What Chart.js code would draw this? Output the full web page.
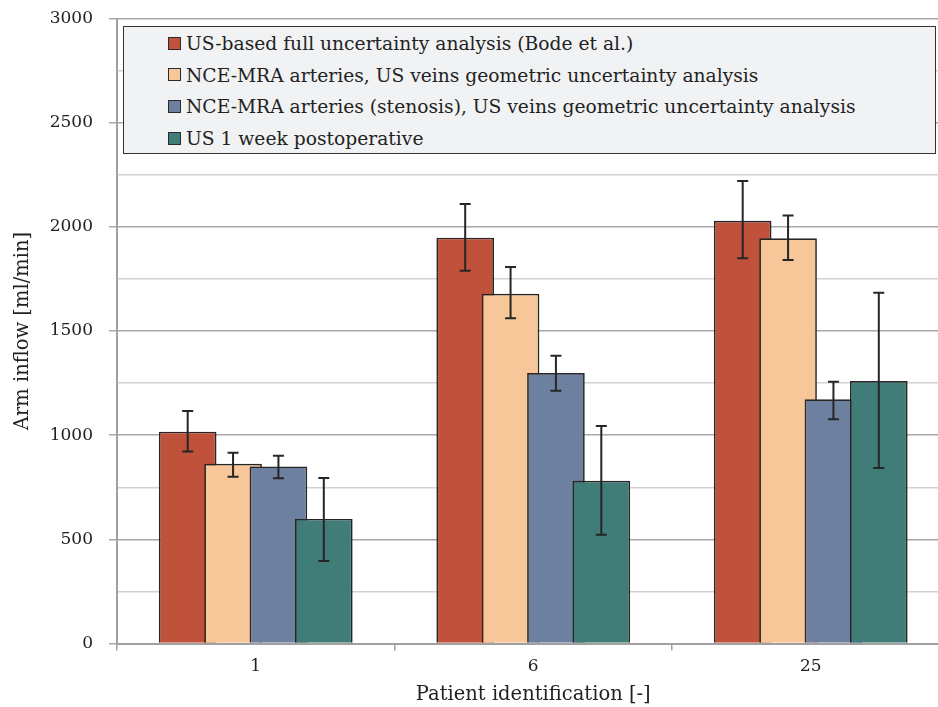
<!DOCTYPE html>
<html>
<head>
<meta charset="utf-8">
<script src="https://cdn.jsdelivr.net/npm/chart.js@4/dist/chart.umd.min.js"></script>
<style>
  html, body { margin: 0; padding: 0; background: #fff; overflow: hidden; }
  #wrap { position: relative; width: 960px; height: 707px; }
  #legend {
    position: absolute; left: 123px; top: 26px; width: 811px; height: 125px;
    background: #f1f2f4; border: 1.5px solid #333;
    font-family: "DejaVu Serif", serif; font-size: 18.7px; color: #222;
    padding-top: 1px;
  }
  #legend div { height: 31.7px; line-height: 31.7px; padding-left: 44px; white-space: nowrap; }
  #legend span {
    display: inline-block; width: 11px; height: 11px; border: 1px solid #2b2b2b;
    vertical-align: middle; margin-right: 5px; position: relative; top: -2px;
  }
</style>
</head>
<body>
<div id="wrap">
  <canvas id="myChart"></canvas>
  <div id="legend"></div>
</div>
<script>
const patients = ["1", "6", "25"];
const seriesNames = [
  "US-based full uncertainty analysis (Bode et al.)",
  "NCE-MRA arteries, US veins geometric uncertainty analysis",
  "NCE-MRA arteries (stenosis), US veins geometric uncertainty analysis",
  "US 1 week postoperative",
];
const usFull = [1017, 1948, 2029];
const usFullLow = [922, 1789, 1849];
const usFullHigh = [1116, 2110, 2220];
const nceMra = [863, 1679, 1945];
const nceMraLow = [801, 1561, 1841];
const nceMraHigh = [916, 1807, 2055];
const nceStenosis = [850, 1298, 1172];
const nceStenosisLow = [793, 1213, 1076];
const nceStenosisHigh = [901, 1381, 1257];
const usPostop = [598, 781, 1260];
const usPostopLow = [396, 522, 843];
const usPostopHigh = [794, 1044, 1684];
const colors = ["#c0513a", "#f7c699", "#6e809f", "#417d78"];

const values = [usFull, nceMra, nceStenosis, usPostop];
const lows = [usFullLow, nceMraLow, nceStenosisLow, usPostopLow];
const highs = [usFullHigh, nceMraHigh, nceStenosisHigh, usPostopHigh];

const FONT = "DejaVu Serif";
Chart.defaults.font.family = FONT;
Chart.defaults.font.size = 17;
Chart.defaults.color = "#222";

// legend box
const legend = document.getElementById("legend");
seriesNames.forEach((name, i) => {
  const row = document.createElement("div");
  const sw = document.createElement("span");
  sw.style.background = colors[i];
  row.appendChild(sw);
  row.appendChild(document.createTextNode(name));
  legend.appendChild(row);
});

// draw bars left to right (later ones on top), then the error bars
const barsAndErrors = {
  id: "barsAndErrors",
  beforeDatasetsDraw(chart) {
    const ctx = chart.ctx;
    const y = chart.scales.y;
    ctx.save();
    for (let i = 0; i < chart.data.datasets.length; i++) {
      chart.getDatasetMeta(i).controller.draw();
    }
    ctx.strokeStyle = "#262626";
    ctx.lineWidth = 2;
    for (let i = 0; i < chart.data.datasets.length; i++) {
      const meta = chart.getDatasetMeta(i);
      meta.data.forEach((bar, j) => {
        const top = y.getPixelForValue(highs[i][j]);
        const bot = y.getPixelForValue(lows[i][j]);
        ctx.beginPath();
        ctx.moveTo(bar.x, top);
        ctx.lineTo(bar.x, bot);
        ctx.moveTo(bar.x - 5.5, top);
        ctx.lineTo(bar.x + 5.5, top);
        ctx.moveTo(bar.x - 5.5, bot);
        ctx.lineTo(bar.x + 5.5, bot);
        ctx.stroke();
      });
    }
    ctx.restore();
    return false;
  },
};

const ctx = document.getElementById("myChart");
const myChart = new Chart(ctx, {
  type: "bar",
  data: {
    labels: patients,
    datasets: seriesNames.map((name, i) => ({
      label: name,
      data: values[i],
      backgroundColor: colors[i],
      borderColor: "#262626",
      borderWidth: 1.7,
      categoryPercentage: 0.654,
      barPercentage: 1.27,
    })),
  },
  options: {
    responsive: true,
    maintainAspectRatio: false,
    animation: false,
    layout: { padding: { top: 18.5, right: 10.5, left: 0, bottom: 0 } },
    plugins: {
      legend: { display: false },
      tooltip: { enabled: false },
    },
    scales: {
      x: {
        offset: true,
        grid: {
          drawOnChartArea: false,
          drawTicks: true,
          tickLength: 7,
          color: "#a0a0a0",
          lineWidth: 1.5,
          offset: true,
        },
        border: { color: "#a0a0a0", width: 2 },
        ticks: { padding: 6, font: { size: 17 } },
        title: {
          display: true,
          text: "Patient identification [-]",
          font: { size: 19.5 },
          padding: { top: 4, bottom: 0 },
        },
        afterFit(scale) { scale.height = 63.5; },
      },
      y: {
        min: 0,
        max: 3000,
        grid: {
          color: (c) => (c.tick && c.tick.value % 500 === 0 ? "#a8a8a8" : "#d2d2d2"),
          tickColor: (c) => (c.tick && c.tick.value % 500 === 0 ? "#a8a8a8" : "transparent"),
          lineWidth: 1.5,
          tickLength: 8,
        },
        border: { color: "#a0a0a0", width: 2 },
        ticks: {
          stepSize: 250,
          padding: 16,
          font: { size: 17 },
          callback: (v) => (v % 500 === 0 ? v : ""),
        },
        title: {
          display: true,
          text: "Arm inflow [ml/min]",
          font: { size: 19.5 },
          padding: { top: 11, bottom: 0 },
        },
        afterFit(scale) {
          scale.width = 117;
          scale.paddingTop = 0;
          scale.paddingBottom = 0;
        },
      },
    },
  },
  plugins: [barsAndErrors],
});
</script>
</body>
</html>
